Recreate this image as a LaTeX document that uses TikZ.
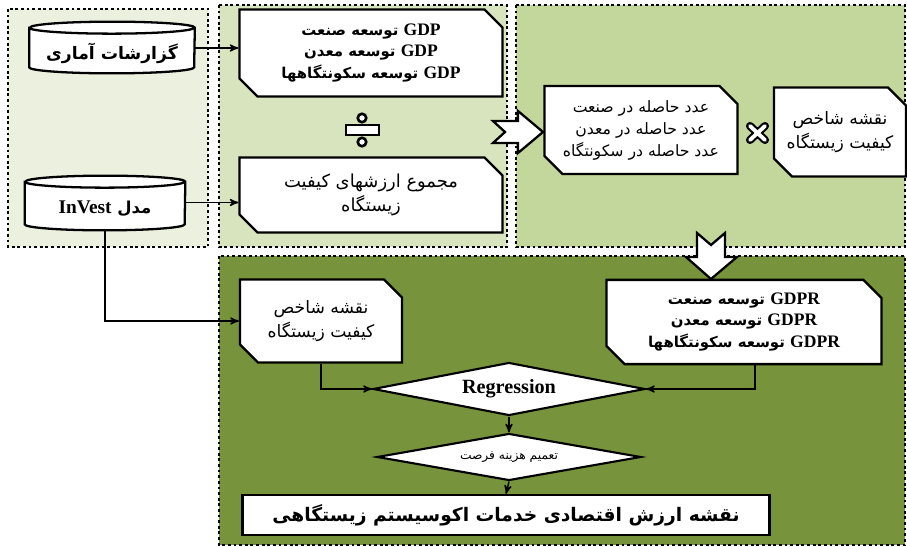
\documentclass[tikz,border=0pt]{standalone}
\usepackage{fontspec}
\setmainfont{Liberation Serif}
\newfontfamily\farsi[Script=Arabic, Scale=0.85]{DejaVu Sans}
\TeXXeTstate=1
\usetikzlibrary{arrows,shapes.geometric,shapes.misc,backgrounds}
\definecolor{panelA}{HTML}{EBF1DE}
\definecolor{panelB}{HTML}{D7E4BD}
\definecolor{panelC}{HTML}{C3D69B}
\definecolor{panelD}{HTML}{77933C}
\newcommand{\fa}[1]{{\farsi\beginR #1\endR}}
\newcommand{\lat}[1]{\beginL{\rmfamily\bfseries #1}\endL}
% outline of a data store round a node: name, x radius, y radius
\newcommand{\drum}[3]{%
  \draw[line width=1.3pt, fill=white] ([yshift=#3]#1.north west) -- ([yshift=#3]#1.south west)
    arc[start angle=180, end angle=360, x radius=#2, y radius=#3]
    -- ([yshift=#3]#1.north east)
    arc[start angle=0, end angle=180, x radius=#2, y radius=#3] -- cycle
    ([yshift=#3]#1.north west) arc[start angle=180, end angle=360, x radius=#2, y radius=#3];}
\tikzset{
x=0.02cm, y=-0.02cm, % one unit is one pixel of the sketch
>=stealth', % small filled heads
panel/.style={line width=1.6pt, dash pattern=on 1.6pt off 1.6pt}, % dotted frames
box/.style={chamfered rectangle, chamfered rectangle corners={north east,south west},
  chamfered rectangle xsep=0.18cm, chamfered rectangle ysep=0.18cm,
  draw, line width=1.3pt, fill=white, align=center, inner sep=2pt},
store/.style={rectangle, inner sep=0pt, font=\fontsize{11.5}{13}\selectfont\bfseries},
dec/.style={diamond, draw, line width=1.2pt, fill=white, aspect=5, inner sep=0pt},
link/.style={->, line width=0.8pt},
bigarrow/.style={draw, line width=1.3pt, fill=white, line join=miter},
}
\begin{document}
\begin{tikzpicture}
\useasboundingbox (0,0) rectangle (907,547);
% panels
\begin{scope}[on background layer]
\draw[panel, fill=panelA] (8,9) rectangle (208,247);
\draw[panel, fill=panelB] (219,5) rectangle (507,247);
\draw[panel, fill=panelC] (516,5) rectangle (905,247);
\draw[panel, fill=panelD] (219,256) rectangle (905,545);
\end{scope}

% data sources
\node[store, minimum width=3.3cm, minimum height=0.78cm] (rep) at (112,53.5) {\fa{گزارشات آماری}};
\node[store, minimum width=3.2cm, minimum height=0.84cm, font=\fontsize{11}{13}\selectfont\bfseries] (inv) at (105,209) {\fa{مدل \lat{InVest}}};
\begin{scope}[on background layer]
\drum{rep}{1.65cm}{0.12cm}
\drum{inv}{1.6cm}{0.12cm}
\end{scope}

% first stage
\node[box, minimum width=5.26cm, minimum height=1.74cm, font=\fontsize{10}{12.5}\selectfont\bfseries] (gdp) at (371,53)
  {\fa{\lat{GDP} توسعه صنعت}\\ \fa{\lat{GDP} توسعه معدن}\\ \fa{\lat{GDP} توسعه سکونتگاهها}};
\node[box, minimum width=5.26cm, minimum height=1.5cm, font=\fontsize{12}{14}\selectfont] (sum) at (371,195)
  {\fa{مجموع ارزشهای کیفیت}\\ \fa{زیستگاه}};

% second stage
\node[box, minimum width=3.86cm, minimum height=1.76cm, font=\fontsize{10.5}{12.5}\selectfont] (prod) at (641,130)
  {\fa{عدد حاصله در صنعت}\\ \fa{عدد حاصله در معدن}\\ \fa{عدد حاصله در سکونتگاه}};
\node[box, minimum width=2.6cm, minimum height=1.78cm, font=\fontsize{11.5}{13.5}\selectfont] (hqi) at (840,132)
  {\fa{نقشه شاخص}\\ \fa{کیفیت زیستگاه}};

% third stage
\node[box, minimum width=3.24cm, minimum height=1.66cm, font=\fontsize{11.5}{14}\selectfont] (hqimap) at (321,321)
  {\fa{نقشه شاخص}\\ \fa{کیفیت زیستگاه}};
\node[box, minimum width=5.5cm, minimum height=1.6cm, font=\fontsize{10}{12.5}\selectfont\bfseries] (gdpr) at (744,322)
  {\fa{\lat{GDPR} توسعه صنعت}\\ \fa{\lat{GDPR} توسعه معدن}\\ \fa{\lat{GDPR} توسعه سکونتگاهها}};
\node[dec, minimum width=5.44cm, minimum height=1.06cm, font=\fontsize{11.5}{13}\selectfont\bfseries] (reg) at (509,389)
  {Regression};
\node[dec, minimum width=5.28cm, minimum height=0.94cm, font=\fontsize{8.2}{9}\selectfont] (opp) at (509,457)
  {\fa{تعمیم هزینه فرصت}};
\node[draw, line width=1.3pt, fill=white, minimum width=10.54cm, minimum height=0.8cm,
  font=\fontsize{12.5}{14}\selectfont\bfseries] (map) at (506,515)
  {\fa{نقشه ارزش اقتصادی خدمات اکوسیستم زیستگاهی}};

% connectors
\draw[link] ([yshift=0.11cm]rep.east) -- ([yshift=0.11cm]rep.east -| gdp.west);
\draw[link] ([yshift=0.13cm]inv.east) -- ([yshift=0.13cm]inv.east -| sum.west);
\draw[link] (inv.south) |- (hqimap.west);
\draw[link] (hqimap.south) |- (reg.west);
\draw[link] ([xshift=0.22cm]gdpr.south) |- (reg.east);
\draw[link] (reg.south) -- (opp.north);
\draw[link] (opp.south) -- (map.north);

% operators and block arrows
\draw[line width=1.5pt, fill=white] (346,125) rectangle (379,135);
\draw[line width=1.5pt, fill=white] (362,118) circle[radius=0.085cm] (362,142) circle[radius=0.085cm];
\draw[line width=4.6pt, line cap=round] (750,126) -- (765,140) (750,140) -- (765,126);
\draw[line width=2.2pt, white, line cap=round] (750,126) -- (765,140) (750,140) -- (765,126);
\draw[bigarrow] (493,121) -- (518,121) -- (518,111) -- (543,132) -- (518,153) -- (518,143) -- (493,143) -- (505,132) -- cycle;
\draw[bigarrow] (697,233) -- (711,245) -- (725,233) -- (725,257) -- (737,257) -- (711,279) -- (686,257) -- (697,257) -- cycle;
\end{tikzpicture}
\end{document}
